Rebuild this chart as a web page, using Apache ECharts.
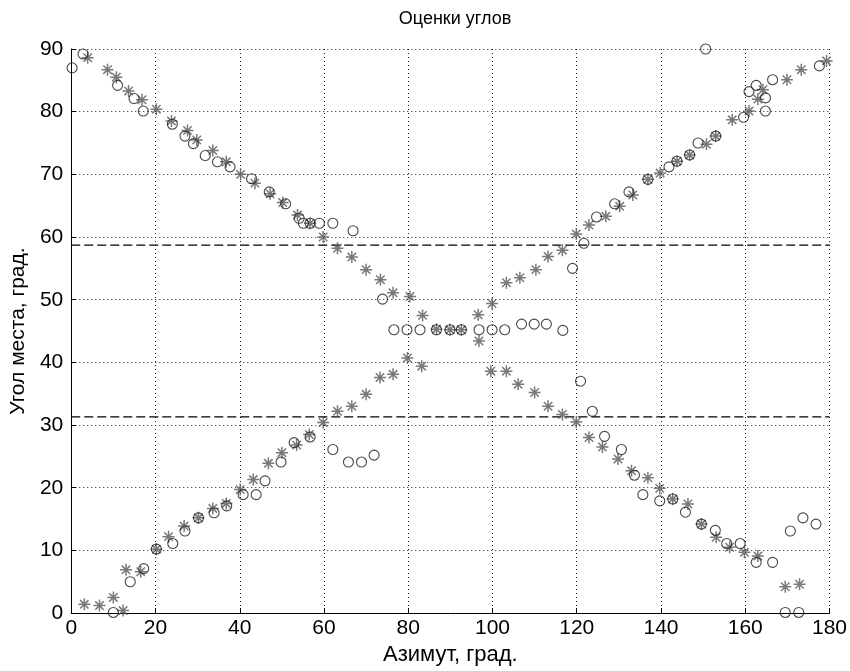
<!DOCTYPE html>
<html>
<head>
<meta charset="utf-8">
<script src="https://cdn.jsdelivr.net/npm/echarts@6/dist/echarts.min.js"></script>
<style>
  html, body { margin: 0; padding: 0; background: #fff; }
  #chart { width: 850px; height: 671px; }
</style>
</head>
<body>
<div id="chart"></div>
<script>
// оценки: кружки
var circlePts = [
  [0.2, 87], [2.8, 89.2], [11, 84.2], [14.9, 82.1], [17.1, 80.1], [24, 78], [27, 76.1],
  [29, 74.9], [31.8, 73], [34.7, 72], [37.7, 71.2], [42.8, 69.3], [47, 67.2], [50.9, 65.3],
  [54.1, 63], [55.1, 62.2], [56.7, 62.2], [58.9, 62.2], [62.1, 62.2], [66.9, 61], [73.9, 50.1],
  [76.6, 45.2], [79.7, 45.2], [82.8, 45.2], [86.7, 45.2], [89.9, 45.2], [92.6, 45.2],
  [96.8, 45.2], [99.9, 45.2], [102.9, 45.2], [106.9, 46.1], [109.9, 46.1], [112.8, 46.1],
  [116.7, 45.1], [119, 55], [121.7, 59], [124.7, 63.2], [129, 65.3], [132.4, 67.2],
  [136.9, 69.2], [141.9, 71.2], [143.8, 72.1], [146.8, 73.1], [148.8, 75], [153, 76.1],
  [159.6, 79.1], [160.9, 83.2], [162.6, 84.2], [164.8, 82.2], [164.8, 80.1], [166.5, 85.1],
  [177.6, 87.3], [150.6, 90],
  [10, 0.1], [14, 5], [17.2, 7.1], [20.2, 10.2], [24.1, 11.1], [27, 13.1], [30.2, 15.2],
  [33.9, 16], [36.9, 17.1], [40.8, 18.9], [43.9, 18.9], [46, 21.1], [49.8, 24.1],
  [52.9, 27.2], [56.7, 28.1], [62.1, 26.1], [65.8, 24.1], [68.9, 24.1], [71.9, 25.2],
  [120.9, 37], [123.7, 32.2], [126.6, 28.2], [130.6, 26.1], [133.7, 22], [135.7, 18.9],
  [139.7, 17.9], [142.8, 18.2], [145.8, 16.1], [149.6, 14.2], [152.9, 13.2], [155.6, 11.1],
  [158.8, 11.1], [162.6, 8.1], [166.5, 8.1], [169.5, 0.1], [172.7, 0.1], [170.7, 13.1],
  [173.7, 15.2], [176.8, 14.2]
];

// оценки: звёздочки
var starPts = [
  [3.9, 88.6], [8.6, 86.7], [10.7, 85.5], [13.6, 83.3], [16.8, 81.9], [20.2, 80.4],
  [23.8, 78.5], [27.6, 77], [29.8, 75.5], [33.6, 73.8], [36.8, 72], [40.2, 70], [43.6, 68.6],
  [47.2, 66.9], [50.2, 65.5], [53.7, 63.5], [56.7, 62.2], [59.8, 60], [63.2, 58.2],
  [66.6, 56.8], [70, 54.8], [73.4, 53.2], [76.4, 51.1], [80.4, 50.5], [83.4, 47.5],
  [86.7, 45.3], [89.9, 45.2], [92.6, 45.2], [96.8, 43.4], [99.6, 38.6], [103.3, 38.6],
  [106.1, 36.5], [110, 35.2], [113.2, 33], [116.6, 31.7], [119.9, 30.5], [122.9, 28],
  [126.1, 26.5], [129.8, 24.6], [133, 22.7], [136.9, 21.6], [139.7, 19.9], [142.8, 18.2],
  [146.4, 17.4], [149.6, 14.2], [153.1, 12.1], [156.3, 10.5], [159.8, 9.7], [163, 9.1],
  [169.5, 4.2], [172.9, 4.6],
  [3.1, 1.4], [6.7, 1.2], [10, 2.5], [12.3, 0.4], [13, 6.9], [16.5, 6.6], [20.2, 10.2],
  [23.1, 12.2], [26.8, 13.9], [30.2, 15.2], [33.6, 16.7], [36.8, 17.5], [40.1, 19.7],
  [43.2, 21.3], [46.8, 23.9], [50, 25.6], [53.5, 26.8], [56.5, 28.5], [59.8, 30.4],
  [63.2, 32.2], [66.6, 33], [70, 34.9], [73.3, 37.6], [76.4, 38.1], [79.8, 40.7],
  [83.2, 39.4], [96.6, 47.6], [99.9, 49.4], [103.3, 52.7], [106.5, 53.5], [110.3, 54.8],
  [113.2, 56.9], [116.6, 57.9], [119.9, 60.5], [122.9, 61.9], [126.9, 63.3], [130.2, 64.9],
  [133.3, 66.7], [136.9, 69.2], [139.8, 70.2], [143.8, 72.1], [146.8, 73.1], [150.8, 74.8],
  [153, 76.1], [156.9, 78.7], [160.9, 80.1], [163, 82], [164.2, 83.5], [169.9, 85.1],
  [173.3, 86.7], [179.3, 88.1]
];

// пороги (штриховые линии)
var thresholds = [58.7, 31.3];
var xRange = [0, 180];

var chart = echarts.init(document.getElementById("chart"), null, { renderer: "canvas" });

var font = "Liberation Sans, Arial, sans-serif";
var starPath = "path://M0,5L10,5M5,0L5,10M1.5,1.5L8.5,8.5M1.5,8.5L8.5,1.5";

var dashSeries = thresholds.map(function (t) {
  return {
    type: "line",
    data: [[xRange[0], t], [xRange[1], t]],
    symbol: "none",
    silent: true,
    lineStyle: { color: "#000", width: 1.2, type: [9, 4] },
    z: 1
  };
});

var option = {
  backgroundColor: "#fff",
  animation: false,
  title: {
    text: "Оценки углов",
    left: 450,
    top: 5,
    textAlign: "center",
    textStyle: { fontFamily: font, fontSize: 18, fontWeight: "normal", color: "#000" }
  },
  grid: { left: 71, right: 20, top: 49, bottom: 57 },
  xAxis: {
    type: "value",
    min: 0,
    max: 180,
    interval: 20,
    name: "Азимут, град.",
    nameLocation: "middle",
    nameGap: 30,
    nameTextStyle: { fontFamily: font, fontSize: 22, color: "#000" },
    axisLine: { lineStyle: { color: "#000", width: 1 } },
    axisTick: { inside: true, length: 5, lineStyle: { color: "#000" } },
    axisLabel: { fontFamily: font, fontSize: 21, color: "#000", margin: 5 },
    splitLine: { show: true, lineStyle: { color: "#222", width: 1, type: [1, 3] } }
  },
  yAxis: {
    type: "value",
    min: 0,
    max: 90,
    interval: 10,
    name: "Угол места, град.",
    nameLocation: "middle",
    nameRotate: 90,
    nameGap: 39,
    nameTextStyle: { fontFamily: font, fontSize: 21, color: "#000" },
    axisLine: { show: true, lineStyle: { color: "#000", width: 1 } },
    axisTick: { show: true, inside: true, length: 5, lineStyle: { color: "#000" } },
    axisLabel: { fontFamily: font, fontSize: 21, color: "#000", margin: 8 },
    splitLine: { show: true, lineStyle: { color: "#222", width: 1, type: [1, 3] } }
  },
  series: dashSeries.concat([
    {
      type: "scatter",
      data: starPts,
      symbol: starPath,
      symbolSize: 12,
      itemStyle: { color: "transparent", borderColor: "#585858", borderWidth: 1.5 },
      z: 3
    },
    {
      type: "scatter",
      data: circlePts,
      symbol: "circle",
      symbolSize: 10,
      itemStyle: { color: "transparent", borderColor: "#1a1a1a", borderWidth: 1.1 },
      z: 4
    }
  ])
};

chart.setOption(option);
</script>
</body>
</html>
